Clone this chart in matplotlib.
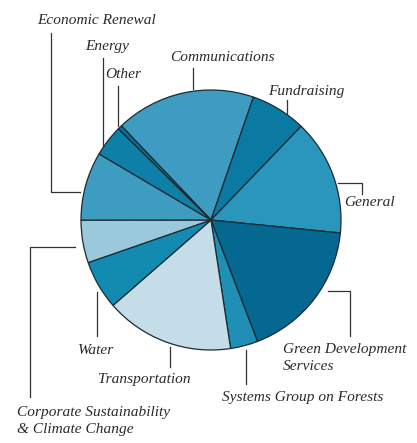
import matplotlib
matplotlib.use("Agg")
from matplotlib import pyplot as plt

# slice shares (percent), clockwise from Communications
labels = ["Communications", "Fundraising", "General", "Green Development\nServices",
          "Systems Group on Forests", "Transportation", "Water",
          "Corporate Sustainability\n& Climate Change", "Economic Renewal", "Energy", "Other"]
shares = [17.4, 6.9, 14.4, 17.6, 3.4, 16.0, 6.1, 5.3, 8.5, 3.9, 0.5]
colors = ["#3d9cc0", "#0a7aa3", "#2b96bb", "#046890", "#1f8fb5", "#c4dde9",
          "#138bb0", "#9ac9de", "#3d9cc0", "#0e80a8", "#0b6f98"]

W, H = 417, 443
fig = plt.figure(figsize=(W / 100, H / 100), dpi=100)
ax = fig.add_axes([0, 0, 1, 1])

ax.pie(shares, colors=colors, startangle=133.6, counterclock=False,
       center=(211, H - 220), radius=130,
       wedgeprops=dict(edgecolor="#1c2b33", linewidth=0.9))

ax.set_xlim(0, W)
ax.set_ylim(0, H)
ax.set_aspect("equal")
ax.axis("off")

# label placement (pixel coords from top-left) and leader lines
label_pos = {
    "Communications": (170, 57),
    "Fundraising": (268, 91),
    "General": (344, 202),
    "Green Development\nServices": (283, 358),
    "Systems Group on Forests": (222, 397),
    "Transportation": (98, 379),
    "Water": (78, 350),
    "Corporate Sustainability\n& Climate Change": (17, 421),
    "Economic Renewal": (37, 20),
    "Energy": (85, 46),
    "Other": (105, 74),
}
leaders = [
    [(193, 68), (193, 89)],
    [(287, 100), (287, 113)],
    [(338, 183), (362, 183), (362, 194)],
    [(328, 291), (350, 291), (350, 336)],
    [(246, 350), (246, 384)],
    [(170, 347), (170, 367)],
    [(97, 292), (97, 336)],
    [(75, 247), (30, 247), (30, 397)],
    [(80, 192), (51, 192), (51, 33)],
    [(103, 146), (103, 58)],
    [(118, 126), (118, 86)],
]

font = dict(family=["Liberation Serif", "DejaVu Serif"], style="italic", size=11.1)
for lab in labels:
    x, y = label_pos[lab]
    ax.text(x, H - y, lab, ha="left", va="center", color="#2b2b2b",
            linespacing=1.35, **font)

for pts in leaders:
    xs = [p[0] for p in pts]
    ys = [H - p[1] for p in pts]
    ax.plot(xs, ys, color="#333333", linewidth=0.9)

fig.savefig("out.png", dpi=100)
